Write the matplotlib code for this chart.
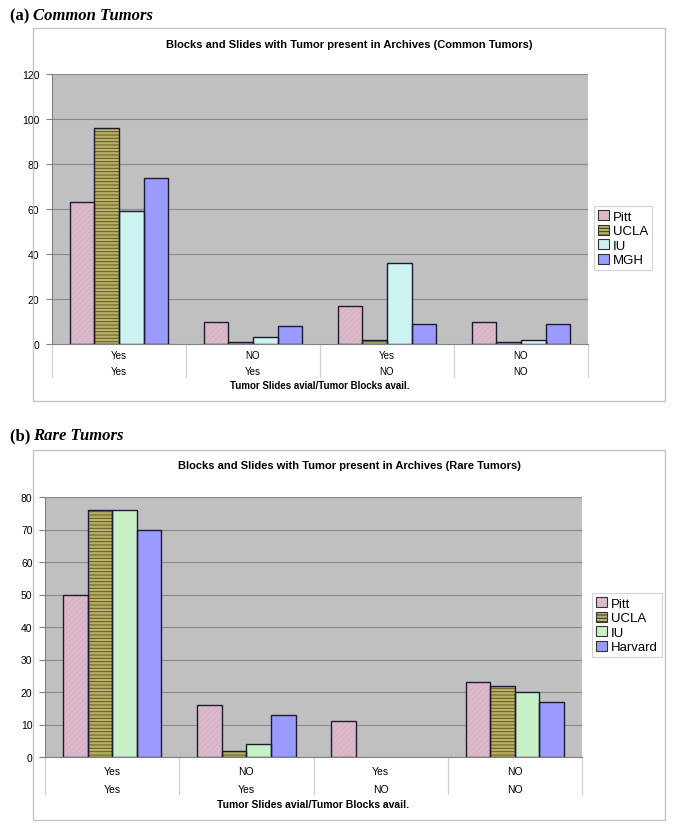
import matplotlib
matplotlib.use("Agg")
import matplotlib.pyplot as plt
import numpy as np
from matplotlib.patches import Rectangle
from matplotlib.transforms import blended_transform_factory

# ---------------- data ----------------
row1_labels = ["Yes", "NO", "Yes", "NO"]   # Tumor slides avail.
row2_labels = ["Yes", "Yes", "NO", "NO"]   # Tumor blocks avail.

common_series = ["Pitt", "UCLA", "IU", "MGH"]
common_pitt = [63, 10, 17, 10]
common_ucla = [96, 1, 2, 1]
common_iu = [59, 3, 36, 2]
common_mgh = [74, 8, 9, 9]

rare_series = ["Pitt", "UCLA", "IU", "Harvard"]
rare_pitt = [50, 16, 11, 23]
rare_ucla = [76, 2, 0, 22]
rare_iu = [76, 4, 0, 20]
rare_harvard = [70, 13, 0, 17]

common_ticks = [0, 20, 40, 60, 80, 100, 120]
rare_ticks = [0, 10, 20, 30, 40, 50, 60, 70, 80]

# ---------------- styling ----------------
W, H = 685, 837
DPI = 100
FONT = "Liberation Sans"
plt.rcParams["font.family"] = [FONT, "DejaVu Sans"]
plt.rcParams["hatch.linewidth"] = 0.7

pitt_col = "#dcbacb"
ucla_col = "#b8b064"
iu_common_col = "#ccf2f2"
iu_rare_col = "#c8f0c8"
mgh_col = "#9b9bff"
hatches = ["//////", "-----", None, None]
hatch_cols = ["#d3afc1", "#5e5a28", None, None]
legend_hatches = [None, "-----", None, None]

fig = plt.figure(figsize=(W / DPI, H / DPI), dpi=DPI)


def px_axes(l, t, r, b):
    return fig.add_axes([l / W, 1 - b / H, (r - l) / W, (b - t) / H])


def outer_box(l, t, r, b):
    fig.patches.append(Rectangle((l / W, 1 - b / H), (r - l) / W, (b - t) / H,
                                 transform=fig.transFigure, fill=False,
                                 edgecolor="#c4c4c4", linewidth=1.0))


def draw_panel(ax, series_names, values, colors, ticks, title, title_y,
               legend_box, ax_px_h, offs, cat_fs):
    n = len(values)
    x = np.arange(len(row1_labels))
    width = 0.183
    ax.set_facecolor("#c0c0c0")
    handles = []
    for i, (name, vals, col) in enumerate(zip(series_names, values, colors)):
        pos = x + (i - (n - 1) / 2) * width
        lws = [1.0 if v > 0 else 0.0 for v in vals]
        if hatches[i]:
            ax.bar(pos, vals, width, color=col, hatch=hatches[i],
                   edgecolor=hatch_cols[i], linewidth=0, zorder=3)
        else:
            ax.bar(pos, vals, width, color=col, linewidth=0, zorder=3)
        ax.bar(pos, vals, width, fill=False, edgecolor="#1a1a33",
               linewidth=lws, zorder=4)
        h = Rectangle((0, 0), 1, 1, facecolor=col, edgecolor="#333333",
                      linewidth=0.8, hatch=legend_hatches[i])
        handles.append(h)

    ax.set_xlim(-0.5, len(x) - 0.5)
    ax.set_ylim(ticks[0], ticks[-1])
    ax.set_yticks(ticks)
    ax.set_yticklabels([str(t) for t in ticks], fontsize=7.5)
    ax.tick_params(axis="y", length=4, color="#808080", pad=5)
    ax.set_xticks([])
    ax.yaxis.grid(True, color="#8a8a8a", linewidth=0.8, zorder=1)
    ax.set_axisbelow(True)
    for s in ["top", "right"]:
        ax.spines[s].set_visible(False)
    ax.spines["left"].set_color("#808080")
    ax.spines["bottom"].set_color("#808080")
    ax.spines["left"].set_linewidth(0.8)
    ax.spines["bottom"].set_linewidth(0.8)

    r1, r2, sep, xl = offs
    tr = blended_transform_factory(ax.transData, ax.transAxes)
    for b in np.arange(-0.5, len(x), 1.0):
        ax.plot([b, b], [0, -sep / ax_px_h], transform=tr, color="#d0d0d0",
                linewidth=0.9, clip_on=False)
    for i in range(len(x)):
        ax.text(x[i], -r1 / ax_px_h, row1_labels[i], transform=tr,
                ha="center", va="center", fontsize=cat_fs)
        ax.text(x[i], -r2 / ax_px_h, row2_labels[i], transform=tr,
                ha="center", va="center", fontsize=cat_fs)
    ax.text(0.5, -xl / ax_px_h, "Tumor Slides avial/Tumor Blocks avail.",
            transform=ax.transAxes, ha="center", va="center",
            fontsize=cat_fs, fontweight="bold")

    fig.text(0.5 * (33 + 665) / W, 1 - title_y / H, title, ha="center",
             va="center", fontsize=8, fontweight="bold")

    l, t, r, b = legend_box
    leg = fig.legend(handles, series_names, loc="upper left",
                     bbox_to_anchor=(l / W, 1 - t / H), frameon=True,
                     fontsize=9.5, handlelength=0.8, handleheight=0.8,
                     handletextpad=0.35, labelspacing=0.15,
                     borderpad=0.3, borderaxespad=0, fancybox=False)
    leg.get_frame().set_edgecolor("#c8c8c8")
    leg.get_frame().set_linewidth(0.8)


# ---------------- panel (a) ----------------
fig.text(10 / W, 1 - 16 / H, "(a) ", fontsize=12, fontweight="bold",
         family="Liberation Serif", va="center", ha="left")
fig.text(33 / W, 1 - 16 / H, "Common Tumors", fontsize=12, fontweight="bold",
         style="italic", family="Liberation Serif", va="center", ha="left")
outer_box(33, 29, 665, 402)
ax1 = px_axes(52, 75, 588, 345)
draw_panel(ax1, common_series,
           [common_pitt, common_ucla, common_iu, common_mgh],
           [pitt_col, ucla_col, iu_common_col, mgh_col],
           common_ticks,
           "Blocks and Slides with Tumor present in Archives (Common Tumors)",
           45, (594, 207, 664, 260), 270, (11, 27.5, 33, 41), 7)

# ---------------- panel (b) ----------------
fig.text(10 / W, 1 - 436 / H, "(b) ", fontsize=12, fontweight="bold",
         family="Liberation Serif", va="center", ha="left")
fig.text(33 / W, 1 - 436 / H, "Rare Tumors", fontsize=12, fontweight="bold",
         style="italic", family="Liberation Serif", va="center", ha="left")
outer_box(33, 451, 665, 821)
ax2 = px_axes(45, 498, 582, 758)
draw_panel(ax2, rare_series,
           [rare_pitt, rare_ucla, rare_iu, rare_harvard],
           [pitt_col, ucla_col, iu_rare_col, mgh_col],
           rare_ticks,
           "Blocks and Slides with Tumor present in Archives (Rare Tumors)",
           466, (592, 594, 663, 663), 260, (14, 32, 37, 47), 7.5)

fig.savefig("out.png", dpi=DPI)
